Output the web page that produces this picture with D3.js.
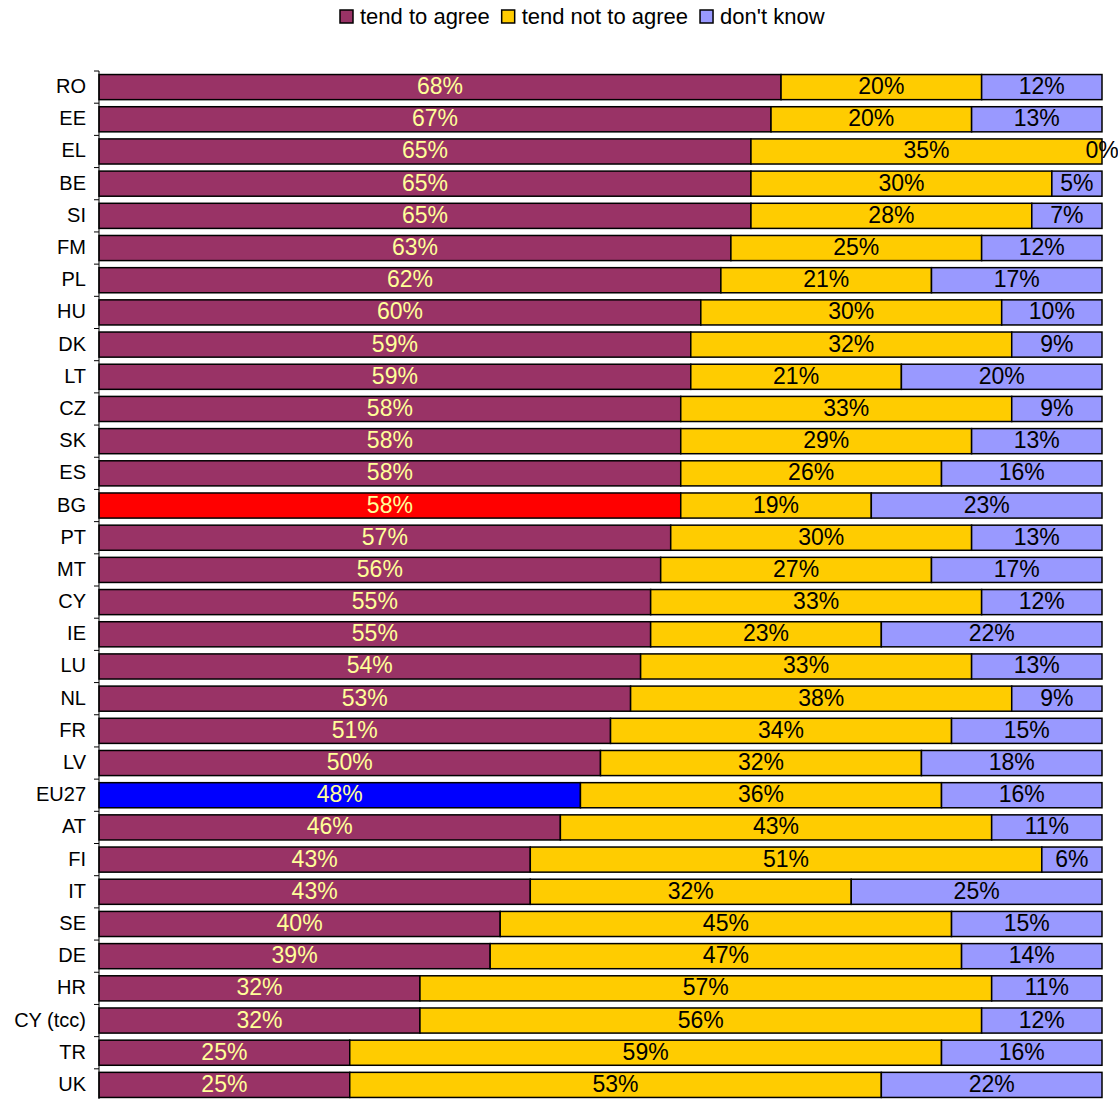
<html lang="en">
  <head>
    <meta charset="UTF-8">
    <title>Stacked bars</title>
    <script src="https://d3js.org/d3.v7.min.js"></script>
    <style>
body, html {
  margin: 0;
  padding: 0;
  background: white;
  font-family: Arial, "Liberation Sans", sans-serif;
  overflow: hidden;
}
svg { display: block; }
    </style>
  </head>
  <body>
    <svg width="1118" height="1099"></svg>
    <script>
      const countries = ["RO","EE","EL","BE","SI","FM","PL","HU","DK","LT","CZ","SK","ES","BG","PT","MT",
        "CY","IE","LU","NL","FR","LV","EU27","AT","FI","IT","SE","DE","HR","CY (tcc)","TR","UK"];
      const agree    = [68,67,65,65,65,63,62,60,59,59,58,58,58,58,57,56,55,55,54,53,51,50,48,46,43,43,40,39,32,32,25,25];
      const notAgree = [20,20,35,30,28,25,21,30,32,21,33,29,26,19,30,27,33,23,33,38,34,32,36,43,51,32,45,47,57,56,59,53];
      const dontKnow = [12,13,0,5,7,12,17,10,9,20,9,13,16,23,13,17,12,22,13,9,15,18,16,11,6,25,15,14,11,12,16,22];
      const seriesNames = ["tend to agree", "tend not to agree", "don't know"];
      const seriesColors = ["#993366", "#FFCC00", "#9999FF"];
      const highlight = {"BG": "#FF0000", "EU27": "#0000FF"};

      const svg = d3.select("svg");
      const plotLeft = 99, plotRight = 1102, plotTop = 71, plotBottom = 1101;

      const rows = countries.map((c, i) => ({c, v: [agree[i], notAgree[i], dontKnow[i]]}));

      const x = d3.scaleLinear().domain([0, 100]).range([plotLeft, plotRight]);
      const y = d3.scaleBand().domain(countries).range([plotTop, plotBottom]).paddingInner(0.22).paddingOuter(0.11);

      // bars
      const g = svg.append("g");
      rows.forEach(r => {
        let acc = 0;
        r.v.forEach((v, k) => {
          const x0 = x(acc), x1 = x(acc + v);
          const fill = (k === 0 && highlight[r.c]) ? highlight[r.c] : seriesColors[k];
          g.append("rect")
            .attr("x", x0).attr("y", y(r.c))
            .attr("width", x1 - x0).attr("height", y.bandwidth())
            .attr("fill", fill)
            .attr("stroke", "#000").attr("stroke-width", 1.5);
          g.append("text")
            .attr("x", (x0 + x1) / 2)
            .attr("y", y(r.c) + y.bandwidth() / 2 - 1)
            .attr("text-anchor", "middle")
            .attr("dominant-baseline", "central")
            .attr("font-size", "23px")
            .attr("fill", k === 0 ? "#FFFF99" : "#000")
            .text(v + "%");
          acc += v;
        });
      });

      // category axis
      const axis = svg.append("g");
      axis.append("line")
        .attr("x1", plotLeft).attr("x2", plotLeft).attr("y1", plotTop).attr("y2", 1099)
        .attr("stroke", "#000").attr("stroke-width", 1);
      const step = y.step();
      d3.range(countries.length + 1).forEach(i => {
        const yy = plotTop + i * step;
        axis.append("line")
          .attr("x1", plotLeft - 5).attr("x2", plotLeft).attr("y1", yy).attr("y2", yy)
          .attr("stroke", "#000");
      });
      countries.forEach(c => {
        axis.append("text")
          .attr("x", 86)
          .attr("y", y(c) + y.bandwidth() / 2 - 1)
          .attr("text-anchor", "end")
          .attr("dominant-baseline", "central")
          .attr("font-size", "20px")
          .attr("fill", "#000")
          .text(c);
      });

      // legend
      const legend = svg.append("g");
      let lx = 340;
      seriesNames.forEach((name, k) => {
        legend.append("rect")
          .attr("x", lx).attr("y", 10).attr("width", 13).attr("height", 13)
          .attr("fill", seriesColors[k]).attr("stroke", "#000").attr("stroke-width", 1.5);
        const t = legend.append("text")
          .attr("x", lx + 20).attr("y", 16)
          .attr("dominant-baseline", "central")
          .attr("font-size", "22px")
          .text(name);
        lx += 20 + t.node().getComputedTextLength() + 12;
      });
    </script>
  </body>
</html>
